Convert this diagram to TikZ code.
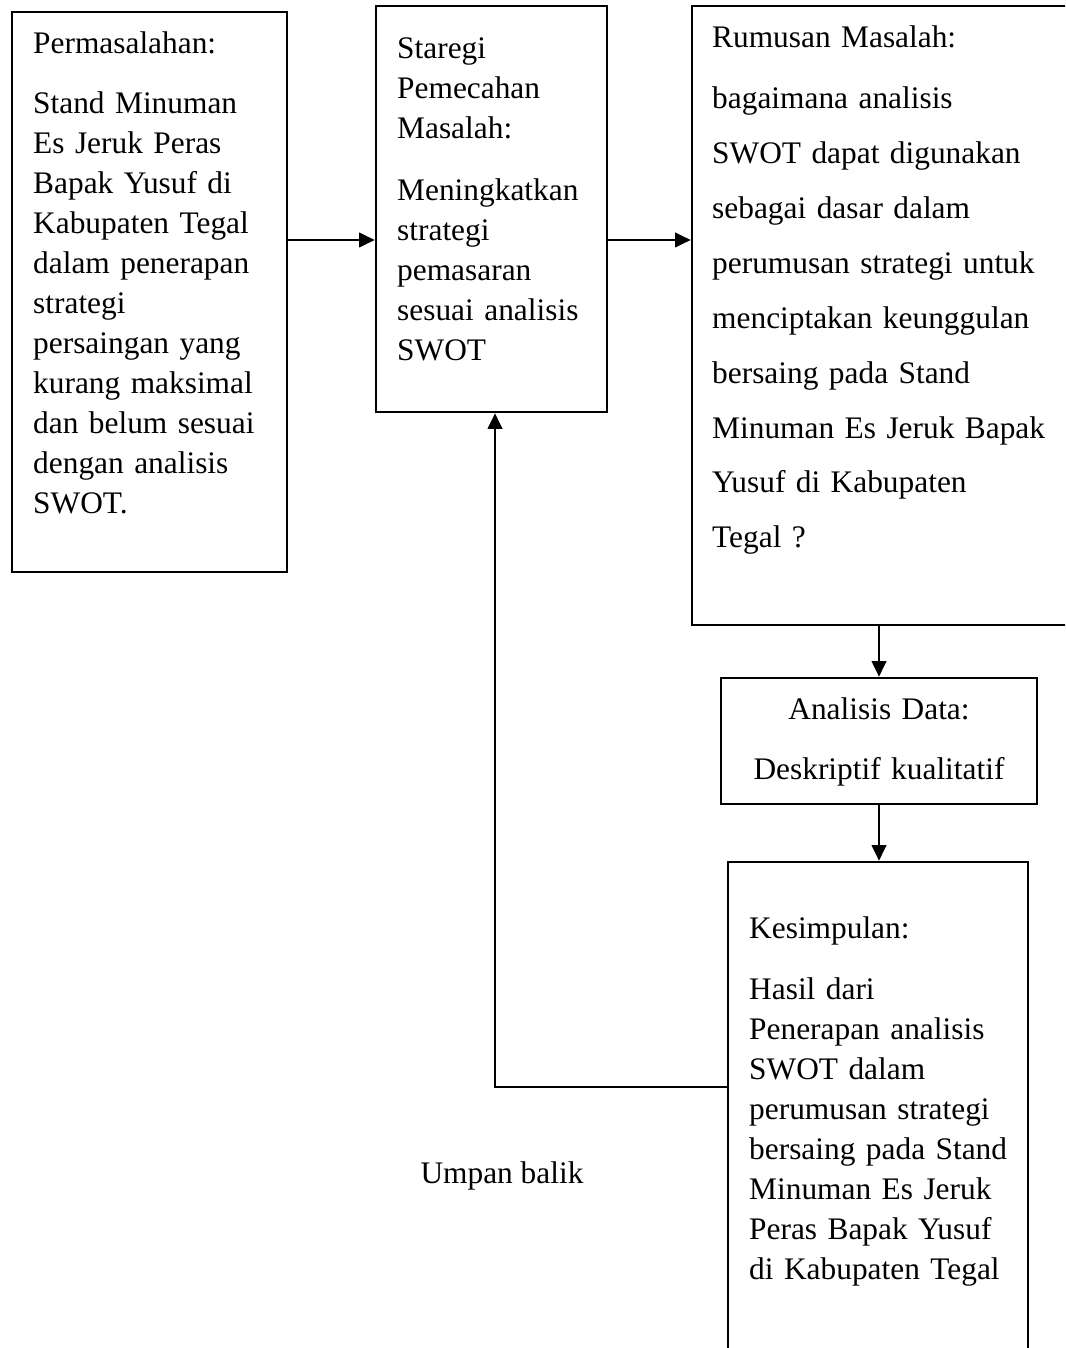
\documentclass[tikz,border=0pt]{standalone}
\usepackage{fontspec}
\setmainfont{Liberation Serif}
\usetikzlibrary{arrows.meta,positioning,calc}
\newcommand{\pxu}{0.3825pt}

\begin{document}
\begin{tikzpicture}[
    x=\pxu, y=-\pxu,
    box/.style={rectangle, draw=black, line width=1pt, inner sep=0pt},
    txt/.style={inner sep=0pt, anchor=base west, align=left, text width=#1, font=\fontsize{12}{15.3}\selectfont},
    txt/.default=100pt,
    arrow/.style={-{Triangle[length=6pt, width=5.6pt]}, line width=0.8pt}
]
    \path[use as bounding box, clip] (0,0) rectangle (1065,1348);

    % Boxes
    \node (perm) at (149.5,292) [box, minimum width=275*\pxu, minimum height=560*\pxu] {};
    \node (strat) at (491.5,209) [box, minimum width=231*\pxu, minimum height=406*\pxu] {};
    \node (rumus) at (886,315.5) [box, minimum width=388*\pxu, minimum height=619*\pxu] {};
    \node (anal) at (879,741) [box, minimum width=316*\pxu, minimum height=126*\pxu] {};
    \node (kesim) at (878,1111) [box, minimum width=300*\pxu, minimum height=498*\pxu] {};

    % Texts
    \node (permtxt) at ($(perm.north west)+(22,43)$) [txt] {Permasalahan:\\[7.6pt]
        Stand Minuman\\ Es Jeruk Peras\\ Bapak Yusuf di\\ Kabupaten Tegal\\ dalam penerapan\\ strategi\\ persaingan yang\\ kurang maksimal\\ dan belum sesuai\\ dengan analisis\\ SWOT.};
    \node (strattxt) at ($(strat.north west)+(22,54)$) [txt] {Staregi\\ Pemecahan\\ Masalah:\\[8.4pt]
        Meningkatkan\\ strategi\\ pemasaran\\ sesuai analisis\\ SWOT};
    \node (rumustxt) at ($(rumus.north west)+(21,43)$) [txt=135pt, font=\fontsize{12}{21}\selectfont] {Rumusan Masalah:\\[2.3pt]
        bagaimana analisis\\ SWOT dapat digunakan\\ sebagai dasar dalam\\ perumusan strategi untuk\\ menciptakan keunggulan\\ bersaing pada Stand\\ Minuman Es Jeruk Bapak\\ Yusuf di Kabupaten\\ Tegal ?};
    \node (analtxt) at ($(anal.north)+(0,43)$) [txt=130pt, anchor=base, align=center, font=\fontsize{12}{23}\selectfont] {Analisis Data:\\ Deskriptif kualitatif};
    \node (kesimtxt) at ($(kesim.north west)+(22,78)$) [txt] {Kesimpulan:\\[8pt]
        Hasil dari\\ Penerapan analisis\\ SWOT dalam\\ perumusan strategi\\ bersaing pada Stand\\ Minuman Es Jeruk\\ Peras Bapak Yusuf\\ di Kabupaten Tegal};
    \node (umpan) at (502,1183) [anchor=base, inner sep=0pt, font=\fontsize{12}{15.3}\selectfont] {Umpan balik};

    % Connectors
    \coordinate (rowy) at (0,240);
    \draw [arrow] (perm.east |- rowy) -- (strat.west |- rowy);
    \draw [arrow] (strat.east |- rowy) -- (rumus.west |- rowy);
    \draw [arrow] (anal.north |- rumus.south) -- (anal.north);
    \draw [arrow] (anal.south) -- (anal.south |- kesim.north);

    % Feedback loop
    \coordinate (fb) at (495,1087);
    \draw [arrow] (kesim.west |- fb) -- (fb) -- (fb |- strat.south);

\end{tikzpicture}
\end{document}
